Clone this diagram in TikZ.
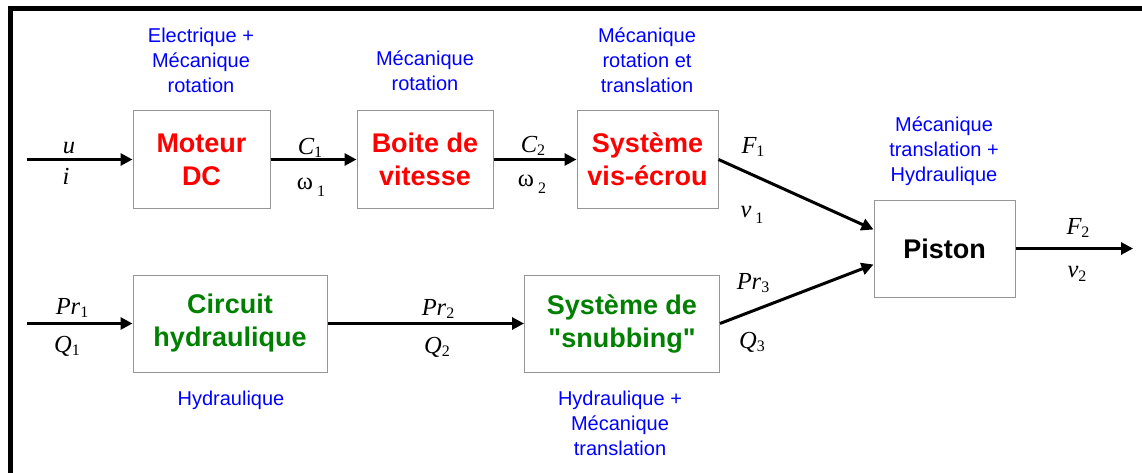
\documentclass[tikz,border=0pt]{standalone}
\usepackage{fontspec}
\setmainfont{Liberation Sans}
\newfontfamily\tnr{Liberation Serif}
\usetikzlibrary{arrows.meta}

\definecolor{cadre}{RGB}{150,150,150}
\definecolor{vertbloc}{RGB}{0,128,0}

\newcommand{\grd}[2]{{\itshape #1}\raisebox{-0.3ex}{\fontsize{16}{16}\selectfont #2}}
\newcommand{\grdb}[2]{#1\,\raisebox{-0.6ex}{\fontsize{16}{16}\selectfont #2}}

\begin{document}
\begin{tikzpicture}[x=1pt, y=-1pt,
  bloc/.style={draw=cadre, fill=white, line width=1pt, minimum height=97, align=center, font=\bfseries\fontsize{27}{33}\selectfont},
  domaine/.style={text=blue, align=center, font=\fontsize{20}{25}\selectfont},
  grandeur/.style={inner sep=0pt, font=\tnr\fontsize{24.5}{24.5}\selectfont},
  flux/.style={line width=3pt, -{Triangle[length=12pt, width=12pt]}}]

  %% ════ cadre ════
  \draw[line width=5pt] (10.5,473) -- (10.5,8.5) -- (1142,8.5);

  %% ════ blocs ════
  \node[bloc, minimum width=137, text=red] (moteur) at (201.5,159.5) {Moteur\\DC};
  \node[bloc, minimum width=136, text=red] (boite) at (425,159.5) {Boite de\\vitesse};
  \node[bloc, minimum width=141, text=red] (visecrou) at (647.5,159.5) {Système\\vis-écrou};
  \node[bloc, minimum width=141] (piston) at (944.5,248.5) {Piston};
  \node[bloc, minimum width=194, text=vertbloc] (circuit) at (230,323.5) {Circuit\\hydraulique};
  \node[bloc, minimum width=195, text=vertbloc] (snubbing) at (622,323.5) {Système de\\\textquotedbl snubbing\textquotedbl};

  %% ════ flux ════
  \coordinate (entreeA) at (27,159.5);
  \coordinate (entreeB) at (27,323.5);
  \coordinate (sortie) at (1133,248.5);
  \draw[flux] (entreeA) -- (moteur);
  \draw[flux] (moteur) -- (boite);
  \draw[flux] (boite) -- (visecrou);
  \draw[flux] (visecrou.east) -- ([yshift=19pt]piston.west);
  \draw[flux] (entreeB) -- (circuit);
  \draw[flux] (circuit) -- (snubbing);
  \draw[flux] (snubbing.east) -- ([yshift=-16pt]piston.west);
  \draw[flux] (piston) -- (sortie);

  %% ════ grandeurs ════
  \node[grandeur] (u) at (69,148) {\itshape u};
  \node[grandeur] (i) at (66,176) {\itshape i};
  \node[grandeur] (c1) at (310,148) {\grd{C}{1}};
  \node[grandeur] (w1) at (311,187) {\grdb{ω}{1}};
  \node[grandeur] (c2) at (533,146) {\grd{C}{2}};
  \node[grandeur] (w2) at (532,184) {\grdb{ω}{2}};
  \node[grandeur] (f1) at (753,147) {\grd{F}{1}};
  \node[grandeur] (v1) at (752,215) {\grdb{{\itshape v}}{1}};
  \node[grandeur] (pr3) at (753,283) {\grd{Pr}{3}};
  \node[grandeur] (q3) at (752,342) {\grd{Q}{3}};
  \node[grandeur] (f2) at (1078,228) {\grd{F}{2}};
  \node[grandeur] (v2) at (1077,274) {\grd{v}{2}};
  \node[grandeur] (pr1) at (72,308) {\grd{Pr}{1}};
  \node[grandeur] (q1) at (67,346) {\grd{Q}{1}};
  \node[grandeur] (pr2) at (438,309) {\grd{Pr}{2}};
  \node[grandeur] (q2) at (437,347) {\grd{Q}{2}};

  %% ════ domaines physiques ════
  \node[domaine] (dmoteur) at (201,60) {Electrique +\\Mécanique\\rotation};
  \node[domaine] (dboite) at (425,71) {Mécanique\\rotation};
  \node[domaine] (dvis) at (647,60) {Mécanique\\rotation et\\translation};
  \node[domaine] (dpiston) at (944,151.5) {Mécanique\\translation +\\Hydraulique};
  \node[domaine] (dcircuit) at (231,400) {Hydraulique};
  \node[domaine] (dsnubbing) at (620,423) {Hydraulique +\\Mécanique\\translation};

  \pgfresetboundingbox
  \path[use as bounding box] (0,0) rectangle (1142,473);
\end{tikzpicture}
\end{document}
